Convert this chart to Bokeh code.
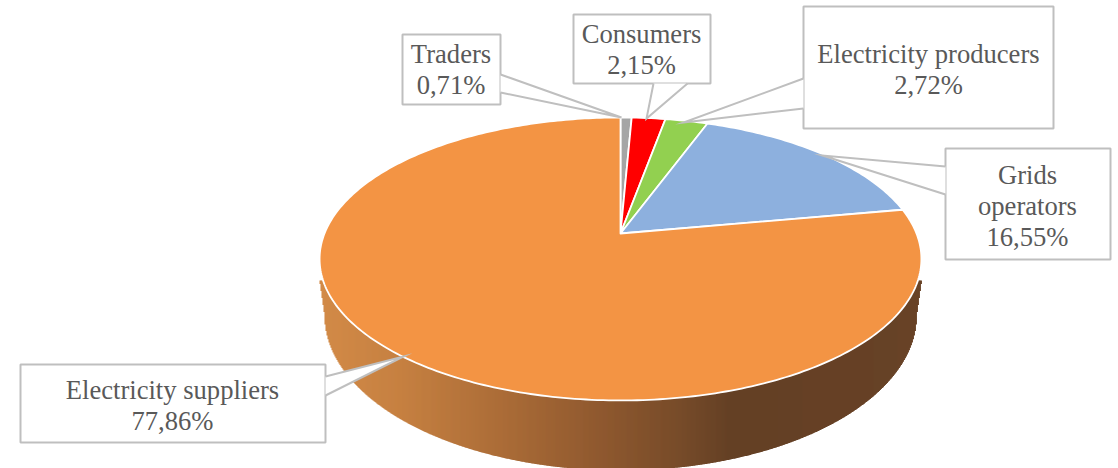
import numpy as np
from bokeh.plotting import figure
from bokeh.models import Range1d, ColumnDataSource
from bokeh.core.properties import value
from bokeh.embed import file_html
from bokeh.resources import INLINE

# --- data -----------------------------------------------------------------
categories = ["Traders", "Consumers", "Electricity producers", "Grids operators", "Electricity suppliers"]
shares = [0.71, 2.15, 2.72, 16.55, 77.86]

# --- styles ---------------------------------------------------------------
slice_colors = ["#a5a5a5", "#ff0000", "#92d050", "#8db0de", "#f39444"]
label_lines = [["Traders"], ["Consumers"], ["Electricity producers"], ["Grids", "operators"], ["Electricity suppliers"]]

# --- layout (page pixels) -------------------------------------------------
APEX_X, APEX_Y = 620.0, 233.0
PERSP_K, PERSP_A, PERSP_B = 0.18, 296.0, 136.9
BASE_CY, BASE_A, BASE_B = 315.0, 296.0, 155.0
TOP_CY, TOP_A, TOP_B = 258.5, 301.0, 141.5
WALL_START_Y = 280.0

callouts = [
    dict(box=(402, 500, 34, 104), text_x=450.5, text_y=53,
         ptr=[(500, 74), (621, 117), (500, 92)]),
    dict(box=(573, 710, 14, 83), text_x=641, text_y=33,
         ptr=[(687, 83), (646, 118), (653, 83)]),
    dict(box=(803, 1053, 6, 128), text_x=928, text_y=53,
         ptr=[(803, 78), (683, 122), (803, 108)]),
    dict(box=(945, 1110, 148, 259), text_x=1027, text_y=174,
         ptr=[(945, 166), (822, 155), (945, 194)]),
    dict(box=(20, 325, 364, 442), text_x=172, text_y=389,
         ptr=[(325, 376), (403, 356), (325, 395)]),
]
LINE_STEP = 31
BORDER = "#bfbfbf"
TEXT = "#595959"
FONT = "Liberation Serif"
FONT_SIZE = "26.6px"

wall_stops_x = [320, 400, 500, 600, 680, 730, 921]
wall_stops_rgb = [(208, 132, 62), (195, 122, 55), (167, 101, 45), (137, 80, 36),
                  (112, 66, 30), (92, 54, 25), (96, 56, 27)]


def project(theta):
    """Perspective view of a point on the pie's rim; theta clockwise from top."""
    u, v = np.sin(theta), np.cos(theta)
    w = 1 + PERSP_K * v
    return APEX_X + PERSP_A * u / w, APEX_Y - PERSP_B * v / w


p = figure(width=1118, height=468, x_range=Range1d(0, 1118), y_range=Range1d(468, 0),
           output_backend="svg", toolbar_location=None, min_border=0,
           background_fill_color="white", border_fill_color="white", outline_line_color=None)
p.axis.visible = False
p.grid.visible = False

# --- side wall: vertical strips with the gradient --------------------------
edges = np.arange(319.0, 922.0, 1.0)
lefts, rights, tops, bottoms, cols = [], [], [], [], []
for x0 in edges:
    xc = x0 + 0.5
    dx = abs(xc - APEX_X)
    if dx > TOP_A:
        continue
    if dx <= BASE_A:
        low = BASE_CY + BASE_B * np.sqrt(max(0.0, 1 - (dx / BASE_A) ** 2))
    else:
        low = BASE_CY - (dx - BASE_A) / (TOP_A - BASE_A) * (BASE_CY - WALL_START_Y)
    rgb = [np.interp(xc, wall_stops_x, [c[i] for c in wall_stops_rgb]) for i in range(3)]
    lefts.append(x0)
    rights.append(x0 + 1.4)
    tops.append(WALL_START_Y if dx > 297.5 else TOP_CY)
    bottoms.append(low)
    cols.append("#%02x%02x%02x" % tuple(int(round(c)) for c in rgb))
p.quad(left=lefts, right=rights, top=tops, bottom=bottoms, fill_color=cols, line_color=None)

# --- top face: one wedge per share -----------------------------------------
total = sum(shares)
fractions = np.cumsum([0.0] + list(shares)) / total
xs, ys = [], []
for a, b in zip(fractions[:-1], fractions[1:]):
    n = max(4, int((b - a) * 400))
    th = np.linspace(a, b, n) * 2 * np.pi
    rx, ry = project(th)
    xs.append([APEX_X] + list(rx))
    ys.append([APEX_Y] + list(ry))
p.patches(xs, ys, fill_color=slice_colors, line_color="white", line_width=1.8, line_join="round")

# --- callouts --------------------------------------------------------------
for c in callouts:
    l, r, t, b = c["box"]
    p.quad(left=[l], right=[r], top=[t], bottom=[b], fill_color="white",
           line_color=BORDER, line_width=2)
    (x1, y1), (x2, y2), (x3, y3) = c["ptr"]
    p.patch([x1, x2, x3], [y1, y2, y3], fill_color="white", line_color=None)
    p.line([x1, x2, x3], [y1, y2, y3], line_color=BORDER, line_width=2, line_join="miter")

# --- labels ----------------------------------------------------------------
tx, ty, tt = [], [], []
for c, lines, v in zip(callouts, label_lines, shares):
    row = list(lines) + [f"{v:.2f}".replace(".", ",") + "%"]
    for i, s in enumerate(row):
        tx.append(c["text_x"])
        ty.append(c["text_y"] + i * LINE_STEP)
        tt.append(s)
p.text(x="x", y="y", text="t", source=ColumnDataSource(dict(x=tx, y=ty, t=tt)),
       text_font=value(FONT), text_font_size=value(FONT_SIZE), text_color=TEXT,
       text_align="center", text_baseline="middle")

open("out.html", "w").write(file_html(p, INLINE))
